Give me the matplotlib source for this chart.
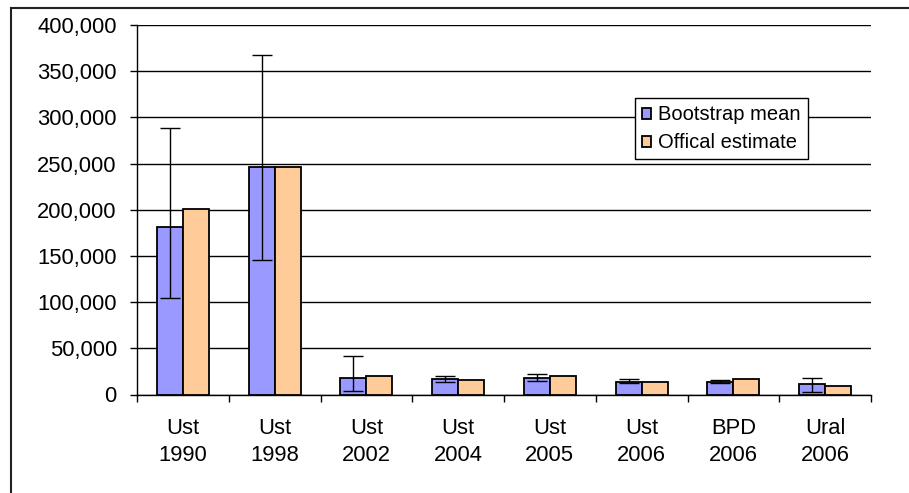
import matplotlib
matplotlib.use("Agg")
import matplotlib.pyplot as plt
import numpy as np
from matplotlib.lines import Line2D
from matplotlib.ticker import FuncFormatter, FixedLocator

plt.rcParams['font.family'] = ['Liberation Sans', 'DejaVu Sans']

categories = ["Ust\n1990", "Ust\n1998", "Ust\n2002", "Ust\n2004",
              "Ust\n2005", "Ust\n2006", "BPD\n2006", "Ural\n2006"]
bootstrap_mean = [181000, 246000, 18000, 16500, 18000, 13700, 13700, 10900]
official_estimate = [201000, 246000, 19900, 15200, 19900, 13500, 16600, 9000]
ci_low = [105000, 146000, 4300, 13400, 14800, 12000, 12000, 2800]
ci_high = [289000, 367000, 41300, 20200, 21700, 17000, 15200, 18000]
series_names = ["Bootstrap mean", "Offical estimate"]

blue = "#9999FF"
orange = "#FFCC99"
FS = 15.8
LFS = 14.5

fig = plt.figure(figsize=(9.09, 4.93), dpi=100)
ax = fig.add_axes([137/909, 1-394.5/493, (871-137)/909, (394.5-25)/493])

x = np.arange(len(categories))
w = 0.283
bm = np.array(bootstrap_mean)
yerr = [bm - np.array(ci_low), np.array(ci_high) - bm]

ax.bar(x - w/2, bootstrap_mean, w, color=blue, edgecolor="black", linewidth=1.3,
       label=series_names[0], zorder=3)
ax.bar(x + w/2, official_estimate, w, color=orange, edgecolor="black", linewidth=1.3,
       label=series_names[1], zorder=3)
ax.errorbar(x - w/2, bootstrap_mean, yerr=yerr, fmt="none", ecolor="black",
            elinewidth=1.0, capsize=7, capthick=1.0, zorder=4)

ax.set_xlim(-0.5, len(categories) - 0.5)
ax.set_ylim(0, 400000)
ax.set_yticks(np.arange(0, 400001, 50000))
ax.yaxis.set_major_formatter(FuncFormatter(lambda v, p: f"{int(v):,}"))
ax.grid(axis="y", color="black", linewidth=1.0, zorder=0)
ax.set_axisbelow(True)

ax.xaxis.set_major_locator(FixedLocator(np.arange(-0.5, len(categories), 1.0)))
ax.xaxis.set_major_formatter(plt.NullFormatter())
ax.xaxis.set_minor_locator(FixedLocator(x))
ax.set_xticklabels(categories, minor=True)
ax.tick_params(axis="x", which="major", length=5, width=1, direction="out", color="black")
ax.tick_params(axis="x", which="minor", length=0, pad=17, labelsize=FS)
ax.tick_params(axis="y", length=5, width=1, direction="out", pad=9.5, labelsize=FS)
for lab in ax.get_xticklabels(minor=True):
    lab.set_linespacing(1.38)

for s in ["top", "right"]:
    ax.spines[s].set_visible(False)
for s in ["left", "bottom"]:
    ax.spines[s].set_linewidth(1.0)
    ax.spines[s].set_color("black")

leg = ax.legend(loc="upper left", bbox_to_anchor=(635/909, 1-98.3/493),
                bbox_transform=fig.transFigure, fontsize=LFS, frameon=True,
                fancybox=False, shadow=False, borderpad=0.35, borderaxespad=0,
                handlelength=0.45, handleheight=0.45, handletextpad=0.35,
                labelspacing=0.45)
leg.get_frame().set_edgecolor("black")
leg.get_frame().set_linewidth(1.0)
leg.get_frame().set_alpha(1)

# outer chart-area frame
fig.add_artist(Line2D([11/909, 11/909], [0, 1-7.5/493], transform=fig.transFigure,
                      color="#222222", linewidth=1.5))
fig.add_artist(Line2D([11/909, 1], [1-7.5/493, 1-7.5/493], transform=fig.transFigure,
                      color="#222222", linewidth=1.5))

fig.savefig("out.png", dpi=100)
